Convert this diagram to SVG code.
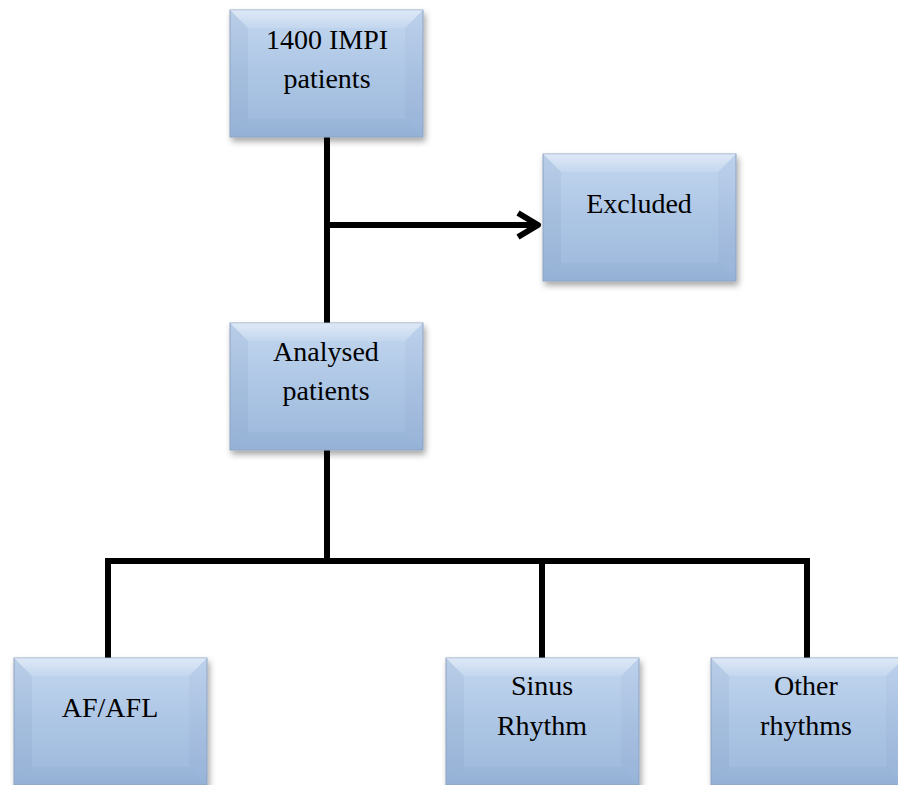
<svg xmlns="http://www.w3.org/2000/svg" width="898" height="785" viewBox="0 0 898 785" xmlns:xlink="http://www.w3.org/1999/xlink">
<style>
  .lbl { font-family: "Liberation Serif", "Times New Roman", serif; font-size: 28px; fill: #000; text-anchor: middle; }
  .conn { stroke: #000; stroke-width: 6; fill: none; stroke-linecap: butt; }
</style>
<defs>
  <linearGradient id="fillGrad" x1="0" y1="0" x2="0" y2="1">
    <stop offset="0" stop-color="#c3d7ef"/>
    <stop offset="0.5" stop-color="#adc6e5"/>
    <stop offset="1" stop-color="#9bb7db"/>
  </linearGradient>
  <linearGradient id="topBand" x1="0" y1="0" x2="0" y2="1">
    <stop offset="0" stop-color="#ffffff" stop-opacity="0.45"/>
    <stop offset="1" stop-color="#ffffff" stop-opacity="0.1"/>
  </linearGradient>
  <filter id="shadow" x="-10%" y="-10%" width="125%" height="130%">
    <feDropShadow dx="2" dy="4" stdDeviation="3" flood-color="#000" flood-opacity="0.35"/>
  </filter>
  <g id="box">
    <rect x="0" y="0" width="193" height="127" fill="url(#fillGrad)" stroke="#8fa6c4" stroke-width="1" filter="url(#shadow)"/>
    <polygon points="0,0 193,0 175,18 18,18" fill="url(#topBand)"/>
    <polygon points="0,0 18,18 18,109 0,127" fill="#5f7fa8" fill-opacity="0.1"/>
    <polygon points="193,0 175,18 175,109 193,127" fill="#5f7fa8" fill-opacity="0.06"/>
    <polygon points="0,127 18,109 175,109 193,127" fill="#5f7fa8" fill-opacity="0.08"/>
  </g>
</defs>
<rect width="898" height="785" fill="#ffffff"/>
<g id="connectors">
  <line class="conn" x1="327" y1="137" x2="327" y2="323"/>
  <line class="conn" x1="327" y1="225" x2="538" y2="225"/>
  <polyline class="conn" points="518,213 538,225 518,237" stroke-linecap="round" stroke-linejoin="round"/>
  <line class="conn" x1="327" y1="450" x2="327" y2="561"/>
  <line class="conn" x1="105" y1="561" x2="810" y2="561"/>
  <line class="conn" x1="108" y1="558" x2="108" y2="658"/>
  <line class="conn" x1="542" y1="561" x2="542" y2="658"/>
  <line class="conn" x1="807" y1="558" x2="807" y2="658"/>
</g>
<g id="node-impi">
  <use xlink:href="#box" href="#box" x="230" y="10"/>
  <text class="lbl" x="327" y="49">1400 IMPI</text>
  <text class="lbl" x="327" y="88">patients</text>
</g>
<g id="node-excluded">
  <use xlink:href="#box" href="#box" x="543" y="154"/>
  <text class="lbl" x="639" y="213">Excluded</text>
</g>
<g id="node-analysed">
  <use xlink:href="#box" href="#box" x="230" y="323"/>
  <text class="lbl" x="326" y="361">Analysed</text>
  <text class="lbl" x="326" y="400">patients</text>
</g>
<g id="node-afafl">
  <use xlink:href="#box" href="#box" x="14" y="658"/>
  <text class="lbl" x="110" y="717">AF/AFL</text>
</g>
<g id="node-sinus">
  <use xlink:href="#box" href="#box" x="446" y="658"/>
  <text class="lbl" x="542" y="695">Sinus</text>
  <text class="lbl" x="542" y="735">Rhythm</text>
</g>
<g id="node-other">
  <use xlink:href="#box" href="#box" x="711" y="658"/>
  <text class="lbl" x="806" y="695">Other</text>
  <text class="lbl" x="806" y="735">rhythms</text>
</g>
</svg>
